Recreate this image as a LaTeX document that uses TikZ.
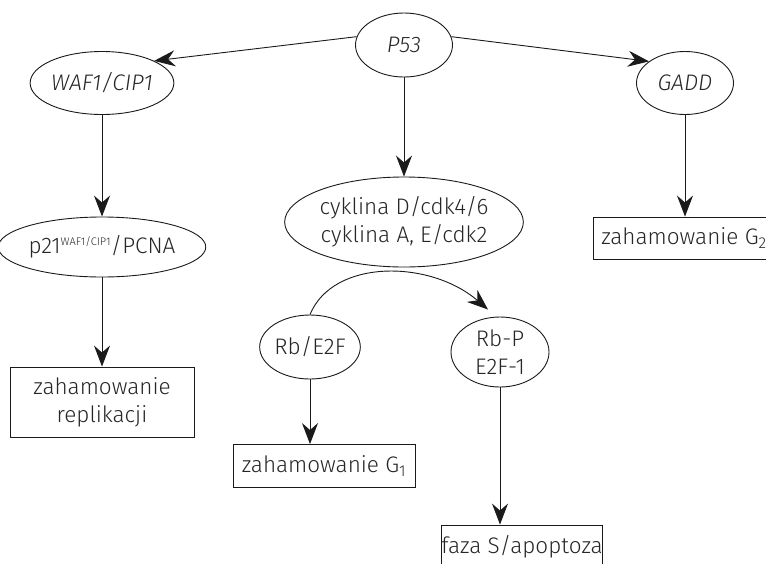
\documentclass[tikz,border=0pt]{standalone}
\usepackage{fontspec}
\setmainfont{Fira Sans}[UprightFont={* Light}, ItalicFont={* Light Italic}]
\usetikzlibrary{shapes.geometric,arrows.meta}
\definecolor{TXTcolor}{HTML}{262626}
\definecolor{LINEcolor}{HTML}{1A1A1A}

\begin{document}
\begin{tikzpicture}[x=1pt,y=-1pt]

    \tikzset{%
        every node/.style={font=\fontsize{22.5}{28}\selectfont, text=TXTcolor},
        ell/.style={draw=LINEcolor, line width=0.9pt, ellipse, inner sep=0pt, align=center},
        box/.style={draw=LINEcolor, line width=0.9pt, rectangle, inner sep=0pt, align=center},
        arr/.style={draw=LINEcolor, line width=0.9pt, -{Stealth[length=21pt,width=16pt,inset=7pt]}},
    }

    \useasboundingbox (0,0) rectangle (766,563);
    \clip (0,0) rectangle (766,563);

    % top level
    \node [ell, minimum width=97, minimum height=64] (p53) at (404, 45) {\textit{P53}};
    \node [ell, minimum width=129, minimum height=63] (waf) at (102, 83) {\textit{WAF1/CIP1}};
    \node [ell, minimum width=97, minimum height=63] (gadd) at (685, 83) {\textit{GADD}};

    % left branch
    \node [ell, minimum width=187, minimum height=60] (p21) at (102, 247)
        {p21\raisebox{8pt}{\fontsize{11}{11}\selectfont WAF1/CIP1}/PCNA};
    \node [box, minimum width=184, minimum height=70] (repl) at (102, 402)
        {zahamowanie\\replikacji};

    % middle branch
    \node [ell, minimum width=214, minimum height=90] (cyk) at (404, 222)
        {cyklina D/cdk4/6\\cyklina A, E/cdk2};
    \node [ell, minimum width=98, minimum height=64] (rb) at (310, 347) {Rb/E2F};
    \node [ell, minimum width=98, minimum height=70] (rbp) at (500, 352) {Rb-P\\E2F-1};
    \node [box, minimum width=182, minimum height=43] (gone) at (324, 466)
        {zahamowanie G\textsubscript{1}};
    \node [box, minimum width=152, minimum height=43] (faza) at (522, 546.5)
        {faza S/apoptoza};

    % right branch
    \node [box, minimum width=182, minimum height=42] (gtwo) at (684, 238)
        {zahamowanie G\textsubscript{2}};

    % connectors
    \draw [arr] (p53.170) -- (waf.23);
    \draw [arr] (p53.10) -- (gadd.149);
    \draw [arr] (p53) -- (cyk);
    \draw [arr] (waf) -- (p21);
    \draw [arr] (p21) -- (repl);
    \draw [arr] (gadd.south) -- (gadd.south |- gtwo.north);
    \draw [arr] (rb.north) .. controls +(23,-56) and +(-58,-50) .. ([shift={(-12,-7)}]rbp.north);
    \draw [arr] (rb.south) -- (rb.south |- gone.north);
    \draw [arr] (rbp.south) -- (rbp.south |- faza.north);

\end{tikzpicture}
\end{document}
